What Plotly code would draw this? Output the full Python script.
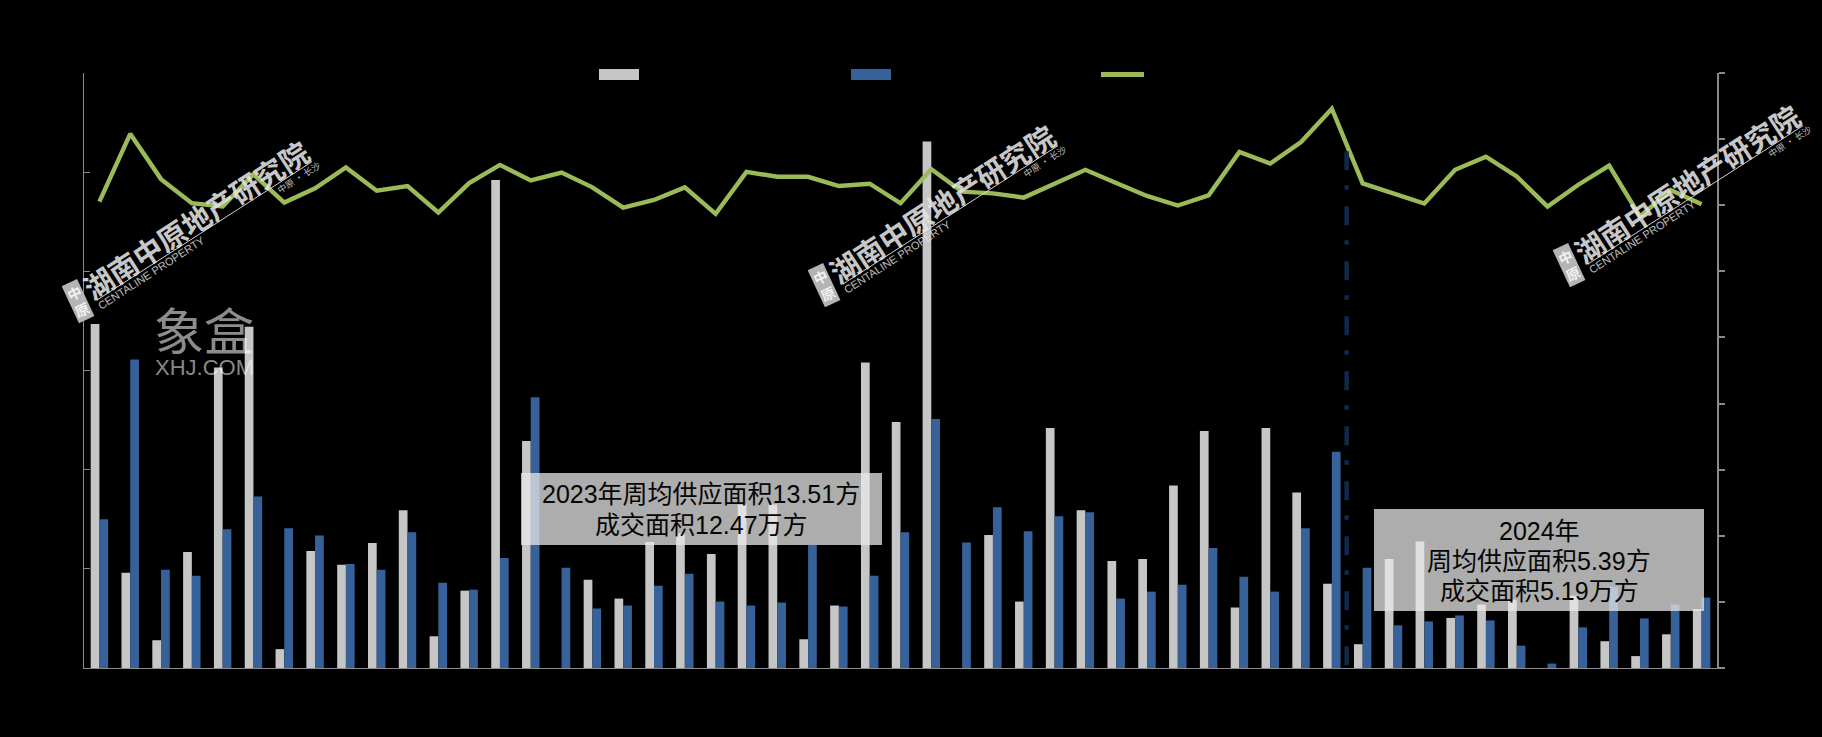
import plotly.graph_objects as go

weeks = list(range(53))
supply = [34.7, 9.6, 2.8, 11.7, 30.3, 34.4, 1.9, 11.8, 10.4, 12.6, 15.9, 3.2, 7.8, 49.2, 22.9, 0, 8.9, 7.0,
          12.7, 13.6, 11.5, 16.5, 16.5, 2.9, 6.3, 30.8, 24.8, 53.1, 0, 13.4, 6.7, 24.2, 15.9, 10.8, 11.0, 18.4,
          23.9, 6.1, 24.2, 17.7, 8.5, 2.4, 11.0, 12.75, 5.05, 6.4, 6.9, 0, 7.3, 2.7, 1.2, 3.4, 5.95]
deals = [15.0, 31.1, 9.9, 9.3, 14.0, 17.3, 14.1, 13.35, 10.5, 9.9, 13.7, 8.6, 7.9, 11.1, 27.3, 10.1, 6.0, 6.3,
         8.3, 9.5, 6.7, 6.3, 6.6, 12.4, 6.2, 9.3, 13.7, 25.1, 12.65, 16.2, 13.8, 15.3, 15.7, 7.0, 7.7, 8.4,
         12.1, 9.2, 7.7, 14.1, 21.8, 10.1, 4.3, 4.7, 5.3, 4.8, 2.25, 0.45, 4.1, 8.2, 5.0, 6.4, 7.1]
price = [14110, 16160, 14790, 14060, 13960, 14940, 14080, 14510, 15140, 14440, 14580, 13780, 14670, 15220, 14750,
         14990, 14540, 13930, 14160, 14540, 13740, 15010, 14860, 14860, 14580, 14650, 14060, 15090, 14410, 14360,
         14230, 14650, 15070, 14670, 14280, 13990, 14300, 15610, 15260, 15910, 16920, 14660, 14360, 14050, 15070,
         15470, 14870, 13960, 14620, 15200, 13660, 14460, 14030]
note_2023 = ["2023年周均供应面积13.51方", "成交面积12.47万方"]
note_2024 = ["2024年", "周均供应面积5.39方", "成交面积5.19万方"]
wm_title = "湖南中原地产研究院"
wm_en = "CENTALINE PROPERTY"
wm_city = "中原 · 长沙"

W, H = 1822, 737
L, R, T, B = 84, 1717, 73, 668
GRAY, BLUE, GREEN, AXIS = "#C6C6C6", "#376299", "#9BBB59", "#8A8A8A"
CJK = "Noto Sans CJK SC"
MIXED = "Liberation Sans, Noto Sans CJK SC"


def px(x):
    return (x - L) / (R - L)


def py(y):
    return (B - y) / (B - T)


def label(text, x, y, font, **kw):
    return dict(text=text, xref="paper", yref="paper", x=px(x), y=py(y), showarrow=False,
                xanchor="center", yanchor="middle", font=font, **kw)


fig = go.Figure()
fig.add_bar(x=weeks, y=supply, name="供应面积", marker=dict(color=GRAY, line_width=0))
fig.add_bar(x=weeks, y=deals, name="成交面积", marker=dict(color=BLUE, line_width=0))
fig.add_scatter(x=weeks, y=price, name="成交均价", yaxis="y2", mode="lines",
                line=dict(color=GREEN, width=4.4, shape="linear"))

shapes = [
    # 2023 / 2024 divider
    dict(type="line", xref="x", yref="y", x0=40.48, x1=40.48, y0=52.1, y1=-1.9, layer="above",
         line=dict(color="#10294A", width=4.5, dash="19px,15px,4.5px,16.5px")),
]
for x0, x1, c in [(599, 639, GRAY), (851, 891, BLUE)]:
    shapes.append(dict(type="rect", xref="paper", yref="paper", x0=px(x0), x1=px(x1), y0=py(80), y1=py(69),
                       fillcolor=c, line_width=0))
shapes.append(dict(type="line", xref="paper", yref="paper", x0=px(1101), x1=px(1144), y0=py(74.5), y1=py(74.5),
                   line=dict(color=GREEN, width=5)))
for x0, x1, y0, y1 in [(521, 882, 473, 545), (1374, 1704, 509, 611)]:
    shapes.append(dict(type="rect", xref="paper", yref="paper", x0=px(x0), x1=px(x1), y0=py(y1), y1=py(y0),
                       fillcolor="rgba(232,232,232,0.745)", line_width=0, layer="above"))

note_font = dict(family=MIXED, size=25, color="#050505")
annotations = [label(t, 701, y, note_font) for t, y in zip(note_2023, [494, 525])]
annotations += [label(t, 1539, y, note_font) for t, y in zip(note_2024, [530.5, 560.5, 590.5])]
annotations += [
    label("象盒", 204, 328, dict(family=CJK, size=50, color="rgba(255,255,255,0.55)")),
    label("XHJ.COM", 204, 367, dict(family="Liberation Sans", size=22, color="rgba(255,255,255,0.55)")),
]

# three copies of the brand watermark
for dx, dy in [(0, 0), (746, -16), (1491, -36)]:
    annotations += [
        label("<b>" + wm_title + "</b>", 195 + dx, 219 + dy,
              dict(family=CJK, size=29, color="rgba(228,228,228,0.9)"), textangle=-33),
        label(wm_en, 151 + dx, 273 + dy,
              dict(family="Liberation Sans", size=11, color="rgba(225,225,225,0.85)"), textangle=-33),
        label(wm_city, 298.5 + dx, 177 + dy,
              dict(family=CJK, size=9, color="rgba(225,225,225,0.85)"), textangle=-33),
        label("<b>中<br>原</b>", 78.3 + dx, 301 + dy,
              dict(family=CJK, size=14, color="#F2F2F2"), textangle=-25,
              bgcolor="rgba(190,190,190,0.95)", borderpad=1),
    ]
    shapes.append(dict(type="line", xref="paper", yref="paper", x0=px(97 + dx), x1=px(312 + dx),
                       y0=py(300 + dy), y1=py(161.7 + dy), line=dict(color="rgba(230,230,230,0.9)", width=1)))

fig.update_layout(
    width=W, height=H, margin=dict(l=L, r=W - R, t=T, b=H - B),
    paper_bgcolor="#000000", plot_bgcolor="#000000",
    barmode="group", bargap=0.434, bargroupgap=0, showlegend=False,
    xaxis=dict(range=[-0.5, 52.5], showgrid=False, zeroline=False, showticklabels=False, ticks="",
               showline=True, linecolor=AXIS, linewidth=1),
    yaxis=dict(range=[0, 60], dtick=10, showgrid=False, zeroline=False, showticklabels=False,
               ticks="inside", ticklen=6, tickcolor=AXIS, tickwidth=1, showline=True, linecolor=AXIS, linewidth=1),
    yaxis2=dict(range=[0, 18000], dtick=2000, overlaying="y", side="right", showgrid=False, zeroline=False,
                showticklabels=False, ticks="outside", ticklen=6, tickcolor=AXIS, tickwidth=1.5,
                showline=True, linecolor=AXIS, linewidth=1.5),
    shapes=shapes, annotations=annotations,
)

fig.write_html("out.html", config=dict(displayModeBar=False),
               post_script="document.body.style.margin='0';document.body.style.background='#000';")
